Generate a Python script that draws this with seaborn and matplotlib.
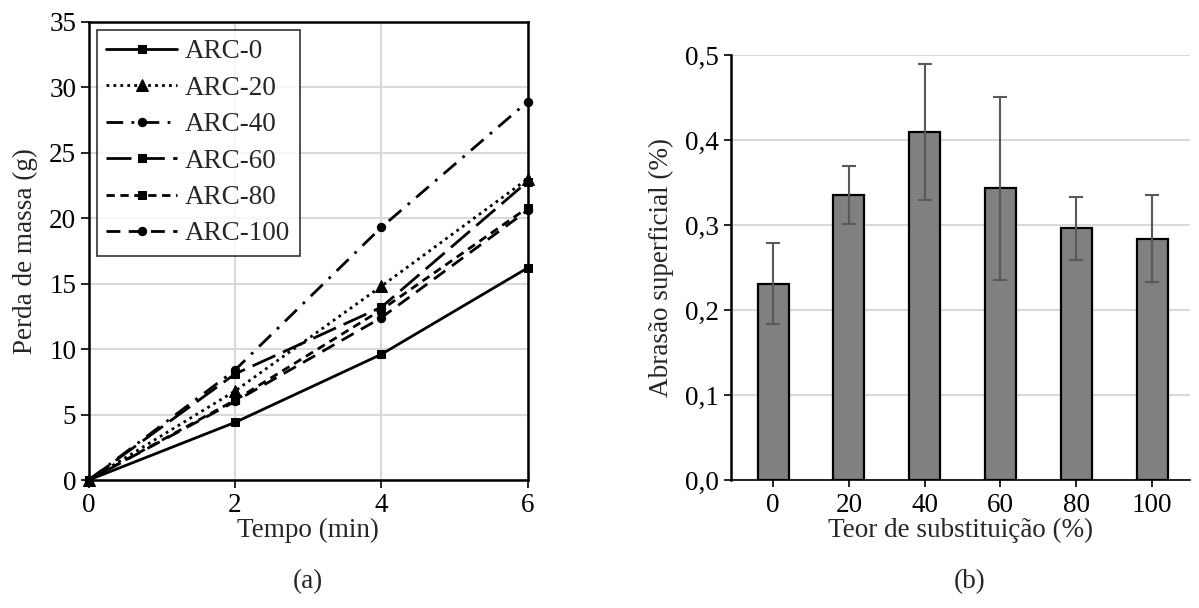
import matplotlib
matplotlib.use("Agg")
import matplotlib.pyplot as plt
import seaborn as sns
import pandas as pd
import numpy as np
from matplotlib.ticker import FuncFormatter

# ---- data ----
tempo = [0, 2, 4, 6]
arc_0 = [0, 4.4, 9.6, 16.2]
arc_20 = [0, 6.8, 14.8, 23.0]
arc_40 = [0, 8.4, 19.3, 28.9]
arc_60 = [0, 8.1, 13.2, 22.8]
arc_80 = [0, 6.1, 13.0, 20.8]
arc_100 = [0, 6.0, 12.4, 20.6]
series_names = ["ARC-0", "ARC-20", "ARC-40", "ARC-60", "ARC-80", "ARC-100"]

teor = ["0", "20", "40", "60", "80", "100"]
abrasao = [0.231, 0.335, 0.410, 0.343, 0.296, 0.284]
abrasao_err = [0.048, 0.034, 0.080, 0.108, 0.037, 0.051]

sns.set_theme(style="white")
plt.rcParams['font.family'] = ['Liberation Serif', 'DejaVu Serif']
plt.rcParams['mathtext.fontset'] = 'stix'

fig = plt.figure(figsize=(11.99, 6.08), dpi=100)
ax1 = fig.add_axes([0.074, 0.2105, 0.366, 0.7535])
ax2 = fig.add_axes([0.610, 0.2105, 0.3825, 0.699])

fs = 19.5
styles = [
    ("-", "s", 6),
    ((0, (1, 1.5)), "^", 9),
    ((0, (6, 3, 1, 3)), "o", 6),
    ((0, (9, 3)), "s", 6),
    ((0, (3, 2)), "s", 6),
    ((0, (5, 3)), "o", 6),
]
all_series = [arc_0, arc_20, arc_40, arc_60, arc_80, arc_100]
for name, vals, (ls, mk, ms) in zip(series_names, all_series, styles):
    df = pd.DataFrame({"Tempo": tempo, "Perda": vals})
    sns.lineplot(data=df, x="Tempo", y="Perda", ax=ax1, color="black",
                 linestyle=ls, marker=mk, markersize=ms, linewidth=2.0,
                 markeredgecolor="black", label=name, clip_on=False, zorder=3)

ax1.set_xlim(0, 6)
ax1.set_ylim(0, 35)
ax1.set_xticks([0, 2, 4, 6])
ax1.set_yticks(range(0, 36, 5))
ax1.grid(True, color="#d9d9d9", linewidth=1.5)
ax1.set_axisbelow(True)
for s in ax1.spines.values():
    s.set_color("black")
    s.set_linewidth(1.8)
ax1.tick_params(axis="both", labelsize=fs, colors="black", direction="out",
                length=6, width=1.2, bottom=True, left=True, pad=3)
ax1.set_xlabel("Tempo (min)", fontsize=fs, labelpad=0)
ax1.set_ylabel("Perda de massa (g)", fontsize=fs, labelpad=8)
leg = ax1.legend(loc="upper left", fontsize=fs, frameon=True, fancybox=False,
                 edgecolor="black", handlelength=2.6, handletextpad=0.3,
                 labelspacing=0.42, borderpad=0.35, borderaxespad=0.3)
leg.get_frame().set_linewidth(1.2)

# ---- bar chart ----
dfb = pd.DataFrame({"Teor": teor, "Abrasao": abrasao})
sns.barplot(data=dfb, x="Teor", y="Abrasao", ax=ax2, color="#808080",
            edgecolor="black", linewidth=1.6, width=0.41, saturation=1,
            errorbar=None, zorder=3)
ax2.errorbar(np.arange(len(teor)), abrasao, yerr=abrasao_err, fmt="none",
             ecolor="#595959", elinewidth=1.5, capsize=5, capthick=1.5, zorder=4)
ax2.set_xlim(-0.55, 5.5)
ax2.set_ylim(0, 0.5)
ax2.set_yticks(np.arange(0, 0.51, 0.1))
ax2.yaxis.set_major_formatter(FuncFormatter(lambda v, p: f"{v:.1f}".replace(".", ",")))
ax2.grid(True, axis="y", color="#d9d9d9", linewidth=1.5)
ax2.set_axisbelow(True)
ax2.spines["top"].set_visible(False)
ax2.spines["right"].set_visible(False)
ax2.spines["left"].set_color("black")
ax2.spines["left"].set_linewidth(1.8)
ax2.spines["bottom"].set_color("black")
ax2.spines["bottom"].set_linewidth(1.2)
ax2.tick_params(axis="both", labelsize=fs, colors="black", direction="out",
                length=5, width=1.2, bottom=True, left=True, pad=4)
ax2.set_xlabel("Teor de substituição (%)", fontsize=fs, labelpad=0)
ax2.set_ylabel("Abrasão superficial (%)", fontsize=fs, labelpad=8)

fig.text(0.257, 0.043, "(a)", fontsize=fs, ha="center", va="center")
fig.text(0.809, 0.043, "(b)", fontsize=fs, ha="center", va="center")

fig.savefig("out.png", dpi=100)
